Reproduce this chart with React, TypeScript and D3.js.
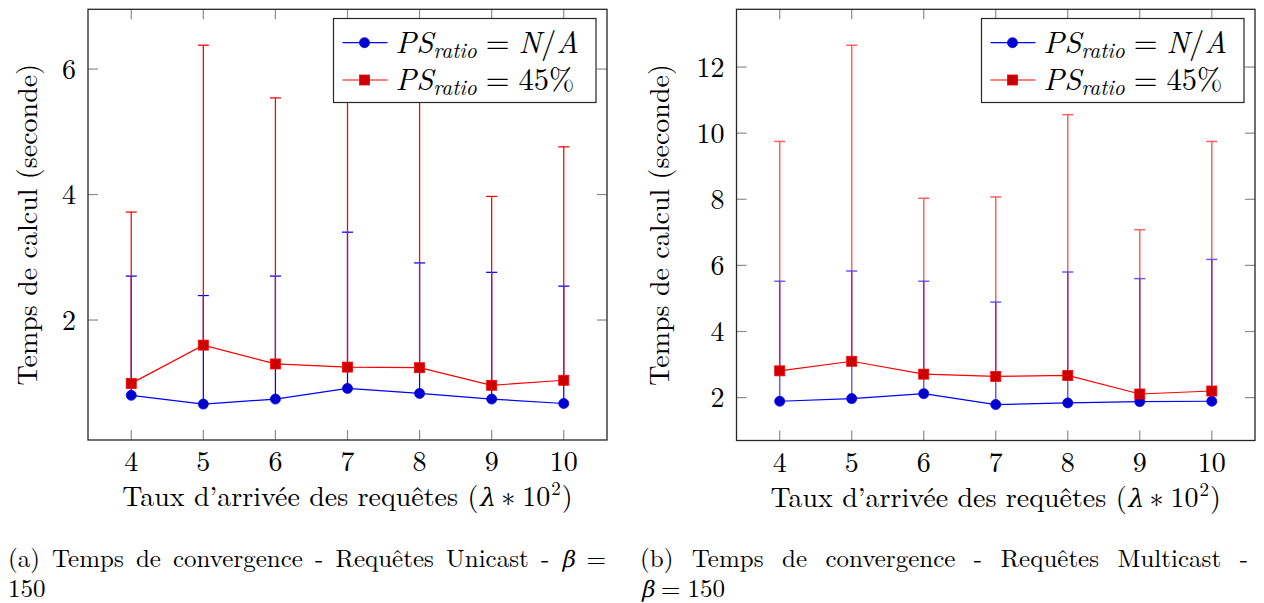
import React from "react";
import * as d3 from "d3";

// ---------- data ----------
const categories = [4, 5, 6, 7, 8, 9, 10];
const yTicksA = [2, 4, 6];
const yTicksB = [2, 4, 6, 8, 10, 12];

// (a) Unicast
const unicastNA = [0.8, 0.66, 0.74, 0.91, 0.83, 0.74, 0.67];
const unicastNATop = [2.7, 2.39, 2.7, 3.4, 2.91, 2.76, 2.54];
const unicast45 = [0.99, 1.6, 1.3, 1.25, 1.24, 0.96, 1.04];
const unicast45Top = [3.72, 6.38, 5.54, 6.0, 6.1, 3.97, 4.76];

// (b) Multicast
const multicastNA = [1.89, 1.97, 2.12, 1.79, 1.84, 1.88, 1.89];
const multicastNATop = [5.52, 5.83, 5.52, 4.89, 5.8, 5.6, 6.18];
const multicast45 = [2.81, 3.1, 2.71, 2.64, 2.67, 2.11, 2.2];
const multicast45Top = [9.75, 12.66, 8.03, 8.07, 10.56, 7.08, 9.75];

const xLabel = "Taux d\u2019arriv\u00e9e des requ\u00eates (";
const yLabel = "Temps de calcul (seconde)";

const FONT = '"Latin Modern Roman", "CMU Serif", "Liberation Serif", serif';
const GREEK = '"DejaVu Serif", serif';
const GREEK_SCALE = 0.9;
const BLUE = "#0000ff";
const BLUE_FILL = "#0000cc";
const RED = "#ff0000";
const RED_FILL = "#cc0000";

let _ctx: CanvasRenderingContext2D | null = null;
function measure(text: string, size: number, greek: boolean) {
  if (!_ctx) _ctx = document.createElement("canvas").getContext("2d");
  if (!_ctx) return text.length * size * 0.45;
  _ctx.font = greek ? `${size * GREEK_SCALE}px "DejaVu Serif"` : `${size}px "Latin Modern Roman"`;
  return _ctx.measureText(text).width;
}

// a text piece; greek pieces are drawn upright in DejaVu Serif and slanted
function Piece({ t, x, y, size, greek }: { t: string; x: number; y: number; size: number; greek?: boolean }) {
  if (greek) {
    return (
      <text x={0} y={0} transform={`translate(${x},${y}) skewX(-13)`} fontSize={size * GREEK_SCALE} style={{ fontFamily: GREEK }} fill="#000">
        {t}
      </text>
    );
  }
  return (
    <text x={x} y={y} fontSize={size} style={{ fontFamily: FONT }} fill="#000">
      {t}
    </text>
  );
}

type Word = { t: string; it?: boolean };
function Justified({ words, x0, x1, y, size }: { words: Word[]; x0: number; x1: number; y: number; size: number }) {
  const widths = words.map((w) => measure(w.t, size, !!w.it));
  const sum = d3.sum(widths);
  const gap = (x1 - x0 - sum) / (words.length - 1);
  let x = x0;
  return (
    <g>
      {words.map((w, i) => {
        const el = <Piece key={i} t={w.t} x={x} y={y} size={size} greek={w.it} />;
        x += widths[i] + gap;
        return el;
      })}
    </g>
  );
}

function XLabel({ cx, y }: { cx: number; y: number }) {
  const S = 28;
  const parts = [
    { t: xLabel, size: S, dy: 0, gapAfter: 0, greek: false },
    { t: "\u03bb", size: S, dy: 0, gapAfter: 7, greek: true },
    { t: "\u2217", size: S, dy: 0, gapAfter: 7, greek: false },
    { t: "10", size: S, dy: 0, gapAfter: 1, greek: false },
    { t: "2", size: 19, dy: -11, gapAfter: 1, greek: false },
    { t: ")", size: S, dy: 0, gapAfter: 0, greek: false },
  ];
  const widths = parts.map((p) => measure(p.t, p.size, p.greek));
  const total = d3.sum(widths) + d3.sum(parts, (p) => p.gapAfter);
  let x = cx - total / 2;
  return (
    <g>
      {parts.map((p, i) => {
        const el = <Piece key={i} t={p.t} x={x} y={y + p.dy} size={p.size} greek={p.greek} />;
        x += widths[i] + p.gapAfter;
        return el;
      })}
    </g>
  );
}

type PanelProps = {
  x0: number; x1: number; y0: number; y1: number;
  na: number[]; naTop: number[]; p45: number[]; p45Top: number[];
  yTicks: number[]; errOpacity: number; errWidth: number; yLabelX: number;
};

function Panel(p: PanelProps) {
  const [cmin, cmax] = d3.extent(categories) as [number, number];
  const cpad = (cmax - cmin) * 0.1;
  const x = d3.scaleLinear().domain([cmin - cpad, cmax + cpad]).range([p.x0, p.x1]);
  const all = [...p.na, ...p.naTop, ...p.p45, ...p.p45Top];
  const [vmin, vmax] = d3.extent(all) as [number, number];
  const vpad = (vmax - vmin) * 0.1;
  const y = d3.scaleLinear().domain([vmin - vpad, vmax + vpad]).range([p.y1, p.y0]);
  const line = d3.line<number>().x((_, i) => x(categories[i])).y((d) => y(d));
  const tickLen = 10;
  const cap = 5.5;
  const cx = (p.x0 + p.x1) / 2;
  const cy = (p.y0 + p.y1) / 2;

  const errBars = (mean: number[], top: number[], color: string) => (
    <g stroke={color} strokeWidth={p.errWidth} opacity={p.errOpacity} fill="none">
      {categories.map((c, i) => (
        <g key={i}>
          <line x1={x(c)} x2={x(c)} y1={y(mean[i])} y2={y(top[i])} />
          <line x1={x(c) - cap} x2={x(c) + cap} y1={y(top[i])} y2={y(top[i])} />
        </g>
      ))}
    </g>
  );

  const L = p.x1 - 11 - 262.5;
  const LT = 18.5;
  const rows = [LT + 24.2, LT + 61.5];
  const txt = { fontFamily: FONT };
  const LF = 30.5;

  return (
    <g>
      {/* ticks */}
      <g stroke="#8c8c8c" strokeWidth={1.2}>
        {categories.map((c) => (
          <g key={c}>
            <line x1={x(c)} x2={x(c)} y1={p.y1} y2={p.y1 - tickLen} />
            <line x1={x(c)} x2={x(c)} y1={p.y0} y2={p.y0 + tickLen} />
          </g>
        ))}
        {p.yTicks.map((t) => (
          <g key={t}>
            <line x1={p.x0} x2={p.x0 + tickLen} y1={y(t)} y2={y(t)} />
            <line x1={p.x1} x2={p.x1 - tickLen} y1={y(t)} y2={y(t)} />
          </g>
        ))}
      </g>

      {/* series */}
      {errBars(p.na, p.naTop, BLUE)}
      <path d={line(p.na) || ""} fill="none" stroke={BLUE} strokeWidth={1.2} />
      {categories.map((c, i) => (
        <circle key={i} cx={x(c)} cy={y(p.na[i])} r={5} fill={BLUE_FILL} stroke={BLUE} strokeWidth={0.8} />
      ))}
      {errBars(p.p45, p.p45Top, RED)}
      <path d={line(p.p45) || ""} fill="none" stroke={RED} strokeWidth={1.2} />
      {categories.map((c, i) => (
        <rect key={i} x={x(c) - 5} y={y(p.p45[i]) - 5} width={10} height={10} fill={RED_FILL} stroke={RED} strokeWidth={0.8} />
      ))}

      {/* frame */}
      <rect x={p.x0} y={p.y0} width={p.x1 - p.x0} height={p.y1 - p.y0} fill="none" stroke="#262626" strokeWidth={1.3} />

      {/* tick labels */}
      <g fontSize={28} fill="#000" style={txt}>
        {categories.map((c) => (
          <text key={c} x={x(c)} y={p.y1 + 31} textAnchor="middle" style={txt}>{c}</text>
        ))}
        {p.yTicks.map((t) => (
          <text key={t} x={p.x0 - 12} y={y(t)} dy="0.34em" textAnchor="end" style={txt}>{t}</text>
        ))}
      </g>

      {/* axis labels */}
      <XLabel cx={cx} y={p.y1 + 66} />
      <text transform={`translate(${p.yLabelX},${cy}) rotate(-90)`} textAnchor="middle" fontSize={28} fill="#000" style={txt}>
        {yLabel}
      </text>

      {/* legend */}
      <rect x={L} y={LT} width={262.5} height={84} fill="#fff" stroke="#262626" strokeWidth={1.2} />
      <line x1={L + 9} x2={L + 54} y1={rows[0]} y2={rows[0]} stroke={BLUE} strokeWidth={1.2} />
      <circle cx={L + 31} cy={rows[0]} r={5} fill={BLUE_FILL} stroke={BLUE} strokeWidth={0.8} />
      <line x1={L + 9} x2={L + 54} y1={rows[1]} y2={rows[1]} stroke={RED} strokeWidth={1.2} />
      <rect x={L + 26} y={rows[1] - 5} width={10} height={10} fill={RED_FILL} stroke={RED} strokeWidth={0.8} />
      <g fontSize={LF} fill="#000" style={txt}>
        <text x={L + 62} y={rows[0] + 10} style={txt}>
          <tspan fontStyle="italic">PS</tspan>
          <tspan fontStyle="italic" fontSize={LF * 0.7} dy={5}>ratio</tspan>
          <tspan dy={-5} dx={9}>=</tspan>
          <tspan dx={9} fontStyle="italic">N</tspan>
          <tspan>/</tspan>
          <tspan fontStyle="italic">A</tspan>
        </text>
        <text x={L + 62} y={rows[1] + 10} style={txt}>
          <tspan fontStyle="italic">PS</tspan>
          <tspan fontStyle="italic" fontSize={LF * 0.7} dy={5}>ratio</tspan>
          <tspan dy={-5} dx={9}>=</tspan>
          <tspan dx={9}>45%</tspan>
        </text>
      </g>
    </g>
  );
}

const captionA: Word[] = [
  { t: "(a)" }, { t: "Temps" }, { t: "de" }, { t: "convergence" }, { t: "-" },
  { t: "Requ\u00eates" }, { t: "Unicast" }, { t: "-" }, { t: "\u03b2", it: true }, { t: "=" },
];
const captionB: Word[] = [
  { t: "(b)" }, { t: "Temps" }, { t: "de" }, { t: "convergence" }, { t: "-" },
  { t: "Requ\u00eates" }, { t: "Multicast" }, { t: "-" },
];

export default function App() {
  const bw = measure("\u03b2", 25, true);
  const ew = measure("=", 25, false);
  return (
    <svg width={1264} height={603} style={{ position: "absolute", left: 0, top: 0, background: "#fff" }}>
      <rect width={1264} height={603} fill="#fff" />
      <Panel x0={88} x1={607} y0={9.3} y1={440} na={unicastNA} naTop={unicastNATop} p45={unicast45} p45Top={unicast45Top}
        yTicks={yTicksA} errOpacity={1} errWidth={1.25} yLabelX={37} />
      <Panel x0={736.5} x1={1255} y0={9.3} y1={440.5} na={multicastNA} naTop={multicastNATop} p45={multicast45} p45Top={multicast45Top}
        yTicks={yTicksB} errOpacity={0.62} errWidth={1.5} yLabelX={669} />
      <Justified words={captionA} x0={8} x1={606} y={567} size={25} />
      <Piece t="150" x={8} y={597} size={25} />
      <Justified words={captionB} x0={640} x1={1248} y={567} size={25} />
      <Piece t={"\u03b2"} x={641} y={597} size={25} greek />
      <Piece t="=" x={641 + bw + 7} y={597} size={25} />
      <Piece t="150" x={641 + bw + 7 + ew + 7} y={597} size={25} />
    </svg>
  );
}
